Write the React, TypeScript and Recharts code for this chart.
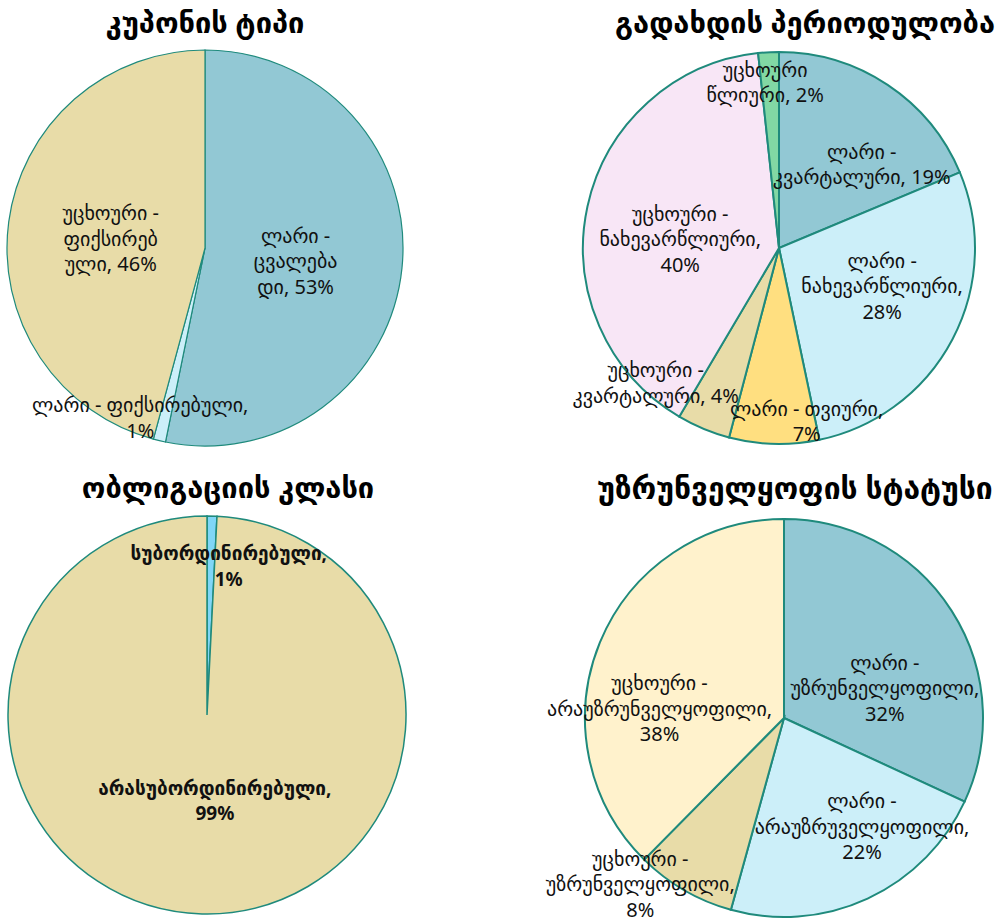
import { Pie, PieChart, Cell } from "recharts";

const FONT = "'Noto Sans', 'DejaVu Sans', sans-serif";
const STROKE = "#1f8a7c";

// კუპონის ტიპი
const couponNames = ["ლარი - ცვალებადი", "ლარი - ფიქსირებული", "უცხოური - ფიქსირებული"];
const couponValues = [53.2, 1.0, 45.8];
const couponLines = [
  ["ლარი -", "ცვალება", "დი, {p}"],
  ["ლარი - ფიქსირებული,", "{p}"],
  ["უცხოური -", "ფიქსირებ", "ული, {p}"],
];
const couponColors = ["#92c8d4", "#cceff9", "#e8dca8"];

// გადახდის პერიოდულობა
const periodNames = [
  "ლარი - კვარტალური",
  "ლარი - ნახევარწლიური",
  "ლარი - თვიური",
  "უცხოური - კვარტალური",
  "უცხოური - ნახევარწლიური",
  "უცხოური წლიური",
];
const periodValues = [18.7, 28.0, 7.4, 4.4, 39.8, 1.7];
const periodLines = [
  ["ლარი -", "კვარტალური, {p}"],
  ["ლარი -", "ნახევარწლიური,", "{p}"],
  ["ლარი - თვიური,", "{p}"],
  ["უცხოური -", "კვარტალური, {p}"],
  ["უცხოური -", "ნახევარწლიური,", "{p}"],
  ["უცხოური", "წლიური, {p}"],
];
const periodColors = ["#92c8d4", "#cceff9", "#ffdf80", "#e8dca8", "#f8e6f6", "#82d8a4"];

// ობლიგაციის კლასი
const classNames = ["სუბორდინირებული", "არასუბორდინირებული"];
const classValues = [0.8, 99.2];
const classLines = [
  ["სუბორდინირებული,", "{p}"],
  ["არასუბორდინირებული,", "{p}"],
];
const classColors = ["#80d6f7", "#e8dca8"];

// უზრუნველყოფის სტატუსი
const securedNames = [
  "ლარი - უზრუნველყოფილი",
  "ლარი - არაუზრუველყოფილი",
  "უცხოური - უზრუნველყოფილი",
  "უცხოური - არაუზრუნველყოფილი",
];
const securedValues = [31.9, 22.4, 8.1, 37.6];
const securedLines = [
  ["ლარი -", "უზრუნველყოფილი,", "{p}"],
  ["ლარი -", "არაუზრუველყოფილი,", "{p}"],
  ["უცხოური -", "უზრუნველყოფილი,", "{p}"],
  ["უცხოური -", "არაუზრუნველყოფილი,", "{p}"],
];
const securedColors = ["#92c8d4", "#cceff9", "#e8dca8", "#fff2cc"];

const RAD = Math.PI / 180;

type LabelPos = { f: number; dx: number; dy: number };

function makeLabel(lines: string[][], pos: LabelPos[], bold = false) {
  return (props: any) => {
    const { cx, cy, midAngle, outerRadius, percent, index } = props;
    const p = pos[index];
    const r = outerRadius * p.f;
    const x = cx + r * Math.cos(-midAngle * RAD) + p.dx;
    const y = cy + r * Math.sin(-midAngle * RAD) + p.dy;
    const pct = `${Math.round(percent * 100)}%`;
    const ls = lines[index].map((l) => l.replace("{p}", pct));
    const lh = 25.5;
    const y0 = y - ((ls.length - 1) * lh) / 2;
    return (
      <text
        x={x}
        y={y0}
        textAnchor="middle"
        dominantBaseline="central"
        fontFamily={FONT}
        fontSize={bold ? 19 : 20}
        fontWeight={bold ? 700 : 400}
        fill="#111"
      >
        {ls.map((l, i) => (
          <tspan key={i} x={x} y={y0 + i * lh}>
            {l}
          </tspan>
        ))}
      </text>
    );
  };
}

const couponPos: LabelPos[] = [
  { f: 0.46, dx: 0, dy: 3 },
  { f: 0.85, dx: -26, dy: 5 },
  { f: 0.47, dx: -2, dy: 2 },
];
const periodPos: LabelPos[] = [
  { f: 0.55, dx: 23, dy: 5 },
  { f: 0.56, dx: 6, dy: -14 },
  { f: 0.88, dx: 32, dy: 0 },
  { f: 0.93, dx: -53, dy: -34 },
  { f: 0.5, dx: -3, dy: 11 },
  { f: 0.85, dx: -5, dy: 0 },
];
const classPos: LabelPos[] = [
  { f: 0.75, dx: 18, dy: 0 },
  { f: 0.43, dx: 10, dy: 0 },
];
const securedPos: LabelPos[] = [
  { f: 0.53, dx: 12, dy: 26 },
  { f: 0.67, dx: 22, dy: -13 },
  { f: 0.97, dx: -47, dy: -2 },
  { f: 0.6, dx: -14, dy: 35 },
];

const toRows = (names: string[], values: number[]) =>
  names.map((name, i) => ({ name, value: values[i] }));

const titleStyle = (left: number, top: number, size = 29): React.CSSProperties => ({
  position: "absolute",
  left,
  top,
  transform: "translateX(-50%)",
  whiteSpace: "nowrap",
  fontFamily: FONT,
  fontWeight: 700,
  fontSize: size,
  color: "#000",
  lineHeight: "30px",
});

export default function App() {
  return (
    <div style={{ position: "absolute", left: 0, top: 0, width: 1000, height: 919, background: "#fff" }}>
      <div style={titleStyle(205, 7)}>კუპონის ტიპი</div>
      <div style={titleStyle(805, 7)}>გადახდის პერიოდულობა</div>
      <div style={titleStyle(228, 472)}>ობლიგაციის კლასი</div>
      <div style={titleStyle(795, 473, 30)}>უზრუნველყოფის სტატუსი</div>
      <div style={{ position: "absolute", left: 0, top: 0 }}>
        <PieChart width={1000} height={919} margin={{ top: 0, right: 0, bottom: 0, left: 0 }}>
          <Pie
            data={toRows(couponNames, couponValues)}
            dataKey="value"
            cx={205}
            cy={248}
            outerRadius={198}
            startAngle={90}
            endAngle={-270}
            stroke={STROKE}
            strokeWidth={1.2}
            labelLine={false}
            label={makeLabel(couponLines, couponPos)}
            isAnimationActive={false}
          >
            {couponColors.map((c, i) => (
              <Cell key={i} fill={c} />
            ))}
          </Pie>
          <Pie
            data={toRows(periodNames, periodValues)}
            dataKey="value"
            cx={779}
            cy={248}
            outerRadius={196}
            startAngle={90}
            endAngle={-270}
            stroke={STROKE}
            strokeWidth={2}
            labelLine={false}
            label={makeLabel(periodLines, periodPos)}
            isAnimationActive={false}
          >
            {periodColors.map((c, i) => (
              <Cell key={i} fill={c} />
            ))}
          </Pie>
          <Pie
            data={toRows(classNames, classValues)}
            dataKey="value"
            cx={207}
            cy={715}
            outerRadius={199}
            startAngle={90}
            endAngle={-270}
            stroke={STROKE}
            strokeWidth={1.5}
            labelLine={false}
            label={makeLabel(classLines, classPos, true)}
            isAnimationActive={false}
          >
            {classColors.map((c, i) => (
              <Cell key={i} fill={c} />
            ))}
          </Pie>
          <Pie
            data={toRows(securedNames, securedValues)}
            dataKey="value"
            cx={784}
            cy={718}
            outerRadius={199}
            startAngle={90}
            endAngle={-270}
            stroke={STROKE}
            strokeWidth={2}
            labelLine={false}
            label={makeLabel(securedLines, securedPos)}
            isAnimationActive={false}
          >
            {securedColors.map((c, i) => (
              <Cell key={i} fill={c} />
            ))}
          </Pie>
        </PieChart>
      </div>
    </div>
  );
}
